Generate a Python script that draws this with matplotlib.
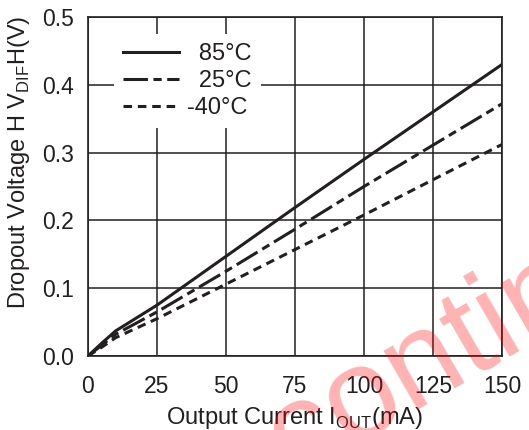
import matplotlib.pyplot as plt

plt.rcParams['font.family'] = ['Liberation Sans', 'DejaVu Sans']
plt.rcParams['mathtext.fontset'] = 'custom'
plt.rcParams['mathtext.rm'] = 'Liberation Sans'

# datos
corriente = [0, 5, 10, 25, 50, 75, 100, 125, 150]
v_85 = [0, 0.019, 0.037, 0.075, 0.147, 0.219, 0.290, 0.360, 0.430]
v_25 = [0, 0.016, 0.032, 0.065, 0.125, 0.187, 0.250, 0.311, 0.372]
v_m40 = [0, 0.013, 0.027, 0.055, 0.106, 0.157, 0.208, 0.260, 0.312]
# el espacio U+2002 corre las etiquetas positivas como en el original
etiquetas = ['\u200285°C', '\u200225°C', '-40°C']
ticks_x = [0, 25, 50, 75, 100, 125, 150]
ticks_y = [0.0, 0.1, 0.2, 0.3, 0.4, 0.5]

negro = '#231f20'
fig = plt.figure(figsize=(5.29, 4.30), dpi=100)
ax = fig.add_axes([88/529, 1-356/430, (502-88)/529, (356-17)/430])

ax.plot(corriente, v_85, color=negro, lw=2.2, label=etiquetas[0])
ax.plot(corriente, v_25, color=negro, lw=2.2, dashes=(8, 1.8, 2.7, 1.8), label=etiquetas[1])
ax.plot(corriente, v_m40, color=negro, lw=2.2, dashes=(2.8, 1.9), label=etiquetas[2])

ax.set_xlim(0, 150)
ax.set_ylim(0, 0.5)
ax.set_xticks(ticks_x)
ax.set_yticks(ticks_y)
ax.set_yticklabels([f'{v:.1f}' for v in ticks_y])
ax.grid(True, color=negro, lw=1.1)
ax.tick_params(length=0, labelsize=16.5, colors=negro)
ax.tick_params(axis='x', pad=14)
ax.tick_params(axis='y', pad=10)
for s in ax.spines.values():
    s.set_color(negro)
    s.set_linewidth(1.2)

ax.set_xlabel('Output Current I$_{\\mathrm{OUT}}$(mA)', fontsize=17, color=negro, labelpad=5)
ax.set_ylabel('Dropout Voltage H V$_{\\mathrm{DIF}}$H(V)', fontsize=17, color=negro)
ax.yaxis.set_label_coords(-0.135, 0.57)

leg = ax.legend(loc='upper left', bbox_to_anchor=(0.062, 0.95), frameon=True, fancybox=False,
                handlelength=2.35, handletextpad=0.35, fontsize=17, borderpad=0.4,
                labelspacing=0.2, borderaxespad=0)
leg.get_frame().set_edgecolor('none')
leg.get_frame().set_facecolor('white')
leg.get_frame().set_alpha(1)
for t in leg.get_texts():
    t.set_color(negro)

# marca de agua
fig.text(0.856, 0.109, 'Discontinued', fontsize=92, color='red', alpha=0.3,
         rotation=30, rotation_mode='anchor', ha='center', va='baseline', zorder=10)

plt.savefig('out.png', dpi=100)
